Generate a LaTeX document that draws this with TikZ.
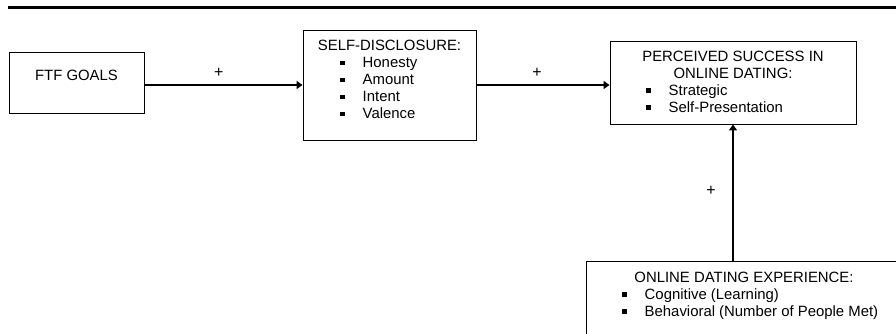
\documentclass[tikz,border=0pt]{standalone}
\usepackage{fontspec}
\setmainfont{Liberation Sans}
\usetikzlibrary{calc}
\usetikzlibrary{arrows.meta}
\usetikzlibrary{positioning}

\newcommand{\bulmark}{\rule[2.5pt]{4.5pt}{4.5pt}\hspace{18pt}}

\begin{document}
\begin{tikzpicture}[x=1pt,y=-1pt]
% 1 = 1px of the page
    \def\LINESKIP{17} %baseline distance
    \def\SDX{340} %bullet column, self-disclosure
    \def\PSX{646} %bullet column, perceived success
    \def\ODX{622} %bullet column, experience

    \tikzset{
      box/.style={draw, line width=0.9pt, inner sep=0pt},
      txt/.style={inner sep=0pt, anchor=base,
        font=\fontsize{14.9pt}{17pt}\selectfont},
      itm/.style={txt, anchor=base west},
      link/.style={-{Triangle[width=8pt,length=6pt]}, line width=2.2pt},
      plus/.style={inner sep=0pt, font=\fontsize{16pt}{18pt}\selectfont},
    }

    \clip (0,0) rectangle (896,333);
    \useasboundingbox (0,0) rectangle (896,333);

    % TOP RULE
    \draw[line width=2.5pt] (8,7.5) coordinate (RA) -- (896,7.5) coordinate (RB);

    % FTF GOALS
    \node[box, minimum width=135pt, minimum height=61pt] (ftf) at (76.5,82.5) {};
    \node[txt] (ftfT) at (76.5,80) {FTF GOALS};

    % SELF-DISCLOSURE
    \node[box, minimum width=173pt, minimum height=110pt] (sd) at (389.5,85) {};
    \node[txt] (sdT) at (389.5,50.5) {SELF-DISCLOSURE:};
    \foreach \lbl [count=\i] in {Honesty,Amount,Intent,Valence}
      \node[itm] (sd\i) at (\SDX,{50.5+\i*\LINESKIP}) {\bulmark\lbl};

    % PERCEIVED SUCCESS
    \node[box, minimum width=246pt, minimum height=83pt] (ps) at (733,82.5) {};
    \node[txt] (psT) at (733,61) {PERCEIVED SUCCESS IN};
    \node[txt] (psU) at (733,78) {ONLINE DATING:};
    \foreach \lbl [count=\i] in {Strategic,Self-Presentation}
      \node[itm] (ps\i) at (\PSX,{78+\i*\LINESKIP}) {\bulmark\lbl};

    % ONLINE DATING EXPERIENCE
    \node[box, minimum width=316pt, minimum height=84pt] (ode) at (744,303) {};
    \node[txt] (odeT) at (744,282) {ONLINE DATING EXPERIENCE:};
    \foreach \lbl [count=\i] in {Cognitive (Learning),Behavioral (Number of People Met)}
      \node[itm] (ode\i) at (\ODX,{282+\i*\LINESKIP}) {\bulmark\lbl};

    % ARROWS
    \draw[link] (ftf.east |- sd.west) -- (sd.west)
        node[plus, pos=.47, yshift=12pt] (p1) {+};
    \draw[link] (sd.east) -- (sd.east -| ps.west)
        node[plus, pos=.455, yshift=12pt] (p2) {+};
    \draw[link] (ps.south |- ode.north) -- (ps.south)
        node[plus, pos=.51, xshift=-22pt] (p3) {+};

\end{tikzpicture}
\end{document}
